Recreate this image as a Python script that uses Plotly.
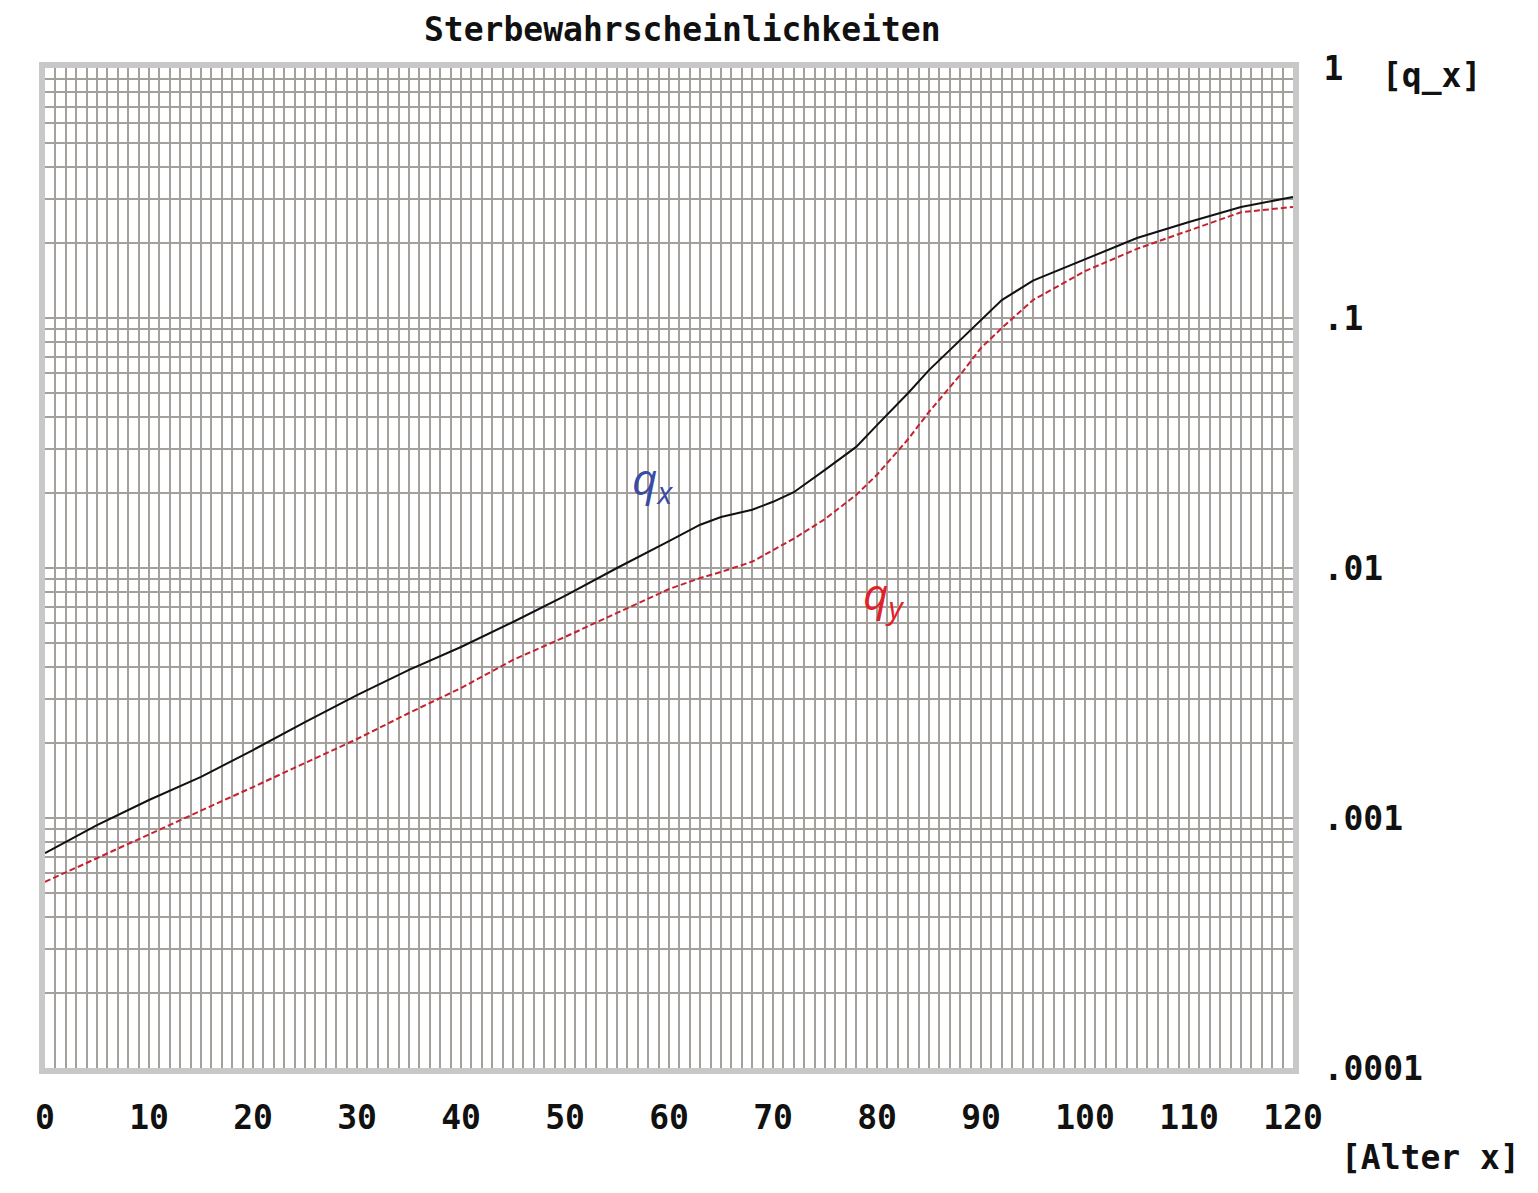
import plotly.graph_objects as go

ages = [0, 5, 10, 15, 20, 25, 30, 35, 40, 45, 50, 55, 60, 63, 65, 68, 70, 72, 75, 78,
        80, 83, 85, 88, 90, 92, 95, 100, 105, 110, 115, 120]

# q_x (black)
qx = [7.24e-4, 9.37e-4, 1.18e-3, 1.46e-3, 1.87e-3, 2.42e-3, 3.10e-3, 3.91e-3, 4.83e-3,
      6.08e-3, 7.73e-3, 1.00e-2, 1.28e-2, 1.49e-2, 1.60e-2, 1.71e-2, 1.84e-2, 2.01e-2,
      2.47e-2, 3.05e-2, 3.73e-2, 5.01e-2, 6.19e-2, 8.17e-2, 9.82e-2, 0.118, 0.141, 0.172,
      0.209, 0.242, 0.278, 0.305]

# q_y (red)
qy = [5.55e-4, 6.92e-4, 8.63e-4, 1.07e-3, 1.33e-3, 1.66e-3, 2.07e-3, 2.63e-3, 3.31e-3,
      4.29e-3, 5.30e-3, 6.61e-3, 8.24e-3, 9.12e-3, 9.64e-3, 1.06e-2, 1.18e-2, 1.31e-2,
      1.57e-2, 1.96e-2, 2.36e-2, 3.28e-2, 4.21e-2, 5.92e-2, 7.59e-2, 9.12e-2, 0.118, 0.154,
      0.189, 0.223, 0.265, 0.278]

x_tick_labels = ["0", "10", "20", "30", "40", "50", "60", "70", "80", "90", "100", "110", "120"]
y_decades = [1e-4, 1e-3, 1e-2, 1e-1, 1]
y_tick_labels = [".0001", ".001", ".01", ".1", "1"]

title_text = "Sterbewahrscheinlichkeiten"
y_unit = "[q_x]"
x_unit = "[Alter x]"

MONO = "DejaVu Sans Mono"
GRID = "#a4a19d"
FRAME = "#c8c8c8"
FS = 33

# x grid: every year, labels every 10
x_vals = list(range(0, 121))
x_text = [x_tick_labels[v // 10] if v % 10 == 0 else "" for v in x_vals]

# y grid: 1..9 per decade, labels on decades
y_vals, y_text = [], []
for i, d in enumerate(y_decades[:-1]):
    for k in range(1, 10):
        y_vals.append(k * d)
        y_text.append(y_tick_labels[i] if k == 1 else "")
y_vals.append(1)
y_text.append(y_tick_labels[-1])

fig = go.Figure()
fig.add_trace(go.Scatter(x=ages, y=qx, mode="lines", line=dict(color="#111111", width=2),
                         showlegend=False, hoverinfo="skip"))
fig.add_trace(go.Scatter(x=ages, y=qy, mode="lines",
                         line=dict(color="#c8202e", width=2, dash="6px,3px"),
                         showlegend=False, hoverinfo="skip"))

fig.update_layout(
    width=1538, height=1193,
    margin=dict(l=45, r=245, t=68, b=125),
    paper_bgcolor="white", plot_bgcolor="white",
    font=dict(family=MONO, size=FS, color="#111111"),
    xaxis=dict(range=[0, 120], tickmode="array", tickvals=x_vals, ticktext=x_text,
               tickangle=0,
               showgrid=True, gridcolor=GRID, gridwidth=2, zeroline=False,
               showline=True, linecolor=FRAME, linewidth=6, mirror=True,
               ticks="", ticklabelstandoff=15,
               tickfont=dict(family=MONO, size=FS, weight="bold")),
    yaxis=dict(type="log", range=[-4, 0], side="right", tickmode="array",
               tickvals=y_vals, ticktext=y_text, tickangle=0,
               showgrid=True, gridcolor=GRID, gridwidth=2, zeroline=False,
               showline=True, linecolor=FRAME, linewidth=6, mirror=True,
               ticks="", ticklabelstandoff=18,
               tickfont=dict(family=MONO, size=FS, weight="bold")),
    annotations=[
        dict(text=title_text, xref="paper", yref="paper", x=0.511, y=1.038,
             xanchor="center", yanchor="middle", showarrow=False,
             font=dict(family=MONO, size=FS, weight="bold", color="#111111")),
        dict(text=y_unit, xref="paper", yref="paper", x=1.1106, y=0.993,
             xanchor="center", yanchor="middle", showarrow=False,
             font=dict(family=MONO, size=FS, weight="bold", color="#111111")),
        dict(text=x_unit, xref="paper", yref="paper", x=1.1098, y=-0.089,
             xanchor="center", yanchor="middle", showarrow=False,
             font=dict(family=MONO, size=FS, weight="bold", color="#111111")),
        dict(text="<i>q</i><sub><i>x</i></sub>", xref="x", yref="y", x=58.4, y=-1.648,
             xanchor="center", yanchor="middle", showarrow=False,
             font=dict(family="Open Sans", size=44, color="#3a4ba3")),
        dict(text="<i>q</i><sub><i>y</i></sub>", xref="x", yref="y", x=80.6, y=-2.11,
             xanchor="center", yanchor="middle", showarrow=False,
             font=dict(family="Open Sans", size=44, color="#e3202a")),
    ],
)

fig.write_html("out.html")
